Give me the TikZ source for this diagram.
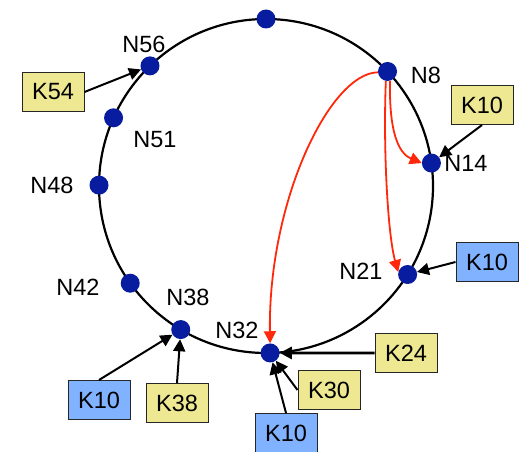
\documentclass[tikz,border=0pt]{standalone}
\usepackage{fontspec}
\setmainfont{Liberation Sans}
\usetikzlibrary{calc}
\usetikzlibrary{arrows.meta}

\definecolor{dotblue}{RGB}{8,28,160}
\definecolor{keyyellow}{RGB}{237,232,145}
\definecolor{keyblue}{RGB}{128,178,255}
\definecolor{lookupred}{RGB}{255,40,10}

\tikzset{
  peer/.style={circle,fill=dotblue,minimum size=19pt,inner sep=0pt},
  peerlabel/.style={font=\fontsize{23.5}{28}\selectfont},
  keybox/.style={draw=black!85,line width=1pt,minimum width=62pt,minimum height=39pt,inner sep=0pt,font=\fontsize{23.5}{28}\selectfont},
  ykey/.style={keybox,fill=keyyellow},
  bkey/.style={keybox,fill=keyblue},
  store/.style={-{Triangle[length=12pt,width=12pt]},line width=2pt},
  hop/.style={-{Triangle[length=12pt,width=12pt]},line width=1.8pt,color=lookupred}
}

\begin{document}
\begin{tikzpicture}[x=1pt,y=1pt]
        \useasboundingbox (0,0) rectangle (528,451);

        % Define the ring
        \def\r{167}  % radius of the ring
        \coordinate (O) at (266,265);

        % Draw the ring
        \draw[line width=2.2pt] (O) circle (\r);

        % Draw the peers on the ring
        \node[peer] (n0)  at ($(O)+(90:\r)$) {};
        \node[peer] (n8)  at ($(O)+(43.3:\r)$) {};
        \node[peer] (n14) at ($(O)+(7.9:\r)$) {};
        \node[peer] (n21) at ($(O)+(-32:\r)$) {};
        \node[peer] (n32) at ($(O)+(-88.6:\r)$) {};
        \node[peer] (n38) at ($(O)+(239.3:\r)$) {};
        \node[peer] (n42) at ($(O)+(215.6:\r)$) {};
        \node[peer] (n48) at ($(O)+(179.7:\r)$) {};
        \node[peer] (n51) at ($(O)+(155.9:\r)$) {};
        \node[peer] (n56) at ($(O)+(134:\r)$) {};

        % Peer labels
        \node[peerlabel] (l8)  at (426,376) {N8};
        \node[peerlabel] (l14) at (466,288) {N14};
        \node[peerlabel] (l21) at (361,180) {N21};
        \node[peerlabel] (l32) at (237,121) {N32};
        \node[peerlabel] (l38) at (188,154) {N38};
        \node[peerlabel] (l42) at (78,164)  {N42};
        \node[peerlabel] (l48) at (52,266)  {N48};
        \node[peerlabel] (l51) at (155,311) {N51};
        \node[peerlabel] (l56) at (144,407) {N56};

        % Draw the lookup hops from N8
        \draw[hop] (n8.185) .. controls (330,378) and (268,250) .. (n32.north);
        \draw[hop] (n8.-100) .. controls (383,300) and (388,215) .. (n21.165);
        \draw[hop] (n8.-75) .. controls (389,320) and (398,298) .. (n14.west);

        % Draw the keys
        \node[ykey] (k54)  at (53,359)  {K54};
        \node[ykey] (k10a) at (482,346) {K10};
        \node[bkey] (k10b) at (487,189) {K10};
        \node[ykey] (k24)  at (406,98)  {K24};
        \node[ykey] (k30)  at (329,61)  {K30};
        \node[bkey] (k10c) at (286,18)  {K10};
        \node[bkey] (k10d) at (99,51)   {K10};
        \node[ykey] (k38)  at (177,48)  {K38};

        % Keys stored at their successors
        \draw[store] (k54.east) -- (n56);
        \draw[store] (k10a.south) -- (n14);
        \draw[store] (k10b.west) -- (n21);
        \draw[store,line width=2.8pt] (k24.west) -- (n32);
        \draw[store] (k30.west) -- (n32);
        \draw[store] (k10c.north) -- (n32);
        \draw[store] (k10d.north) -- (n38);
        \draw[store] (k38.north) -- (n38);

\end{tikzpicture}
\end{document}
